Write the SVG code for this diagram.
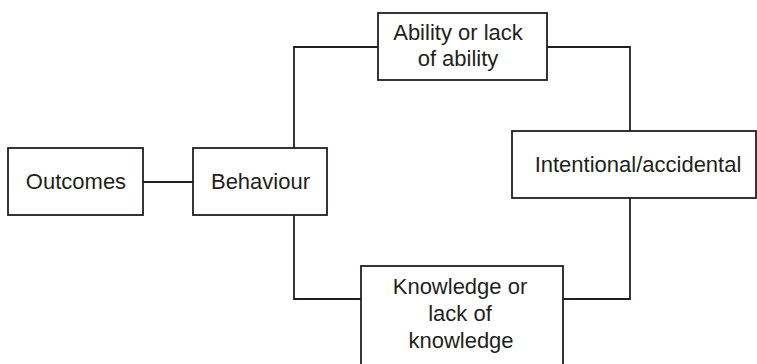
<svg xmlns="http://www.w3.org/2000/svg" width="757" height="364" viewBox="0 0 757 364">
  <style>
    .box { fill: #ffffff; stroke: #231f20; stroke-width: 1.8; }
    .link { fill: none; stroke: #231f20; stroke-width: 1.8; }
    .label { font-family: "Liberation Sans", Arial, sans-serif; font-size: 22px; fill: #231f20; text-anchor: middle; }
  </style>
  <rect width="757" height="364" fill="#ffffff"/>

  <g id="connectors">
    <path class="link" d="M143 182 H193"/>
    <path class="link" d="M294 148 V47 H378"/>
    <path class="link" d="M547 47 H630 V131"/>
    <path class="link" d="M630 198 V299 H563"/>
    <path class="link" d="M294 215 V299 H361"/>
  </g>

  <g id="outcomes">
    <rect class="box" x="8" y="148" width="135" height="67"/>
    <text class="label" x="76" y="189">Outcomes</text>
  </g>

  <g id="behaviour">
    <rect class="box" x="193" y="148" width="134" height="67"/>
    <text class="label" x="260.5" y="189">Behaviour</text>
  </g>

  <g id="ability">
    <rect class="box" x="378" y="13" width="169" height="67"/>
    <text class="label" x="458" y="40">Ability or lack</text>
    <text class="label" x="458" y="66">of ability</text>
  </g>

  <g id="intentional">
    <rect class="box" x="512" y="131" width="244" height="67"/>
    <text class="label" x="638" y="172">Intentional/accidental</text>
  </g>

  <g id="knowledge">
    <rect class="box" x="361" y="266" width="202" height="110"/>
    <text class="label" x="460" y="294">Knowledge or</text>
    <text class="label" x="460" y="321">lack of</text>
    <text class="label" x="461" y="348">knowledge</text>
  </g>
</svg>
